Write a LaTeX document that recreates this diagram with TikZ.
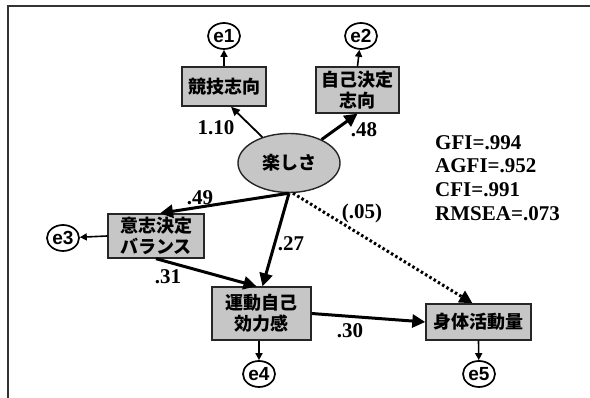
\documentclass[tikz,border=0pt]{standalone}
\usepackage{fontspec}
\setmainfont{Liberation Serif}
\newfontfamily\cjk{Noto Sans CJK JP}
\newfontfamily\esans{Liberation Sans}
\usetikzlibrary{arrows.meta,shapes.geometric}
\begin{document}
\begin{tikzpicture}[x=1pt,y=-1pt,
  box/.style={draw=black!85, line width=1.4pt, fill=gray!45, inner sep=0pt, align=center,
    font=\cjk\bfseries\fontsize{18}{21}\selectfont},
  err/.style={ellipse, draw=black, line width=1.7pt, fill=white, minimum width=32pt, minimum height=26pt, inner sep=0pt,
    font=\esans\bfseries\fontsize{19}{19}\selectfont},
  bigarrow/.style={line width=3pt, -{Triangle[length=13pt,width=13pt]}},
  thinarrow/.style={line width=1.8pt, -{Triangle[length=9pt,width=8pt]}},
  errarrow/.style={line width=1.6pt, -{Triangle[length=7pt,width=7pt]}},
  dotarrow/.style={line width=3pt, dash pattern=on 2.5pt off 2.5pt, -{Triangle[length=13pt,width=13pt]}},
  lbl/.style={font=\bfseries\fontsize{21}{24}\selectfont, inner sep=0pt},
  frameline/.style={draw=black!80, line width=1.6pt}
]
\useasboundingbox (0,0) rectangle (590,398);
\fill[white] (0,0) rectangle (590,398);
\draw[frameline] (8,398) -- (8,6) -- (590,6);

% boxes
\node[box, minimum width=84pt, minimum height=39pt] (b1) at (224,86.5) {競技志向};
\node[box, minimum width=83pt, minimum height=46pt] (b2) at (357.5,90) {自己決定\\志向};
\node[box, minimum width=96pt, minimum height=44pt] (b3) at (156,236) {意志決定\\バランス};
\node[box, minimum width=99pt, minimum height=53pt] (b4) at (261.5,313.5) {運動自己\\効力感};
\node[box, minimum width=105pt, minimum height=36pt] (b5) at (478.5,322) {身体活動量};
\node[ellipse, draw=black!85, line width=1.4pt, fill=gray!45, minimum width=102pt, minimum height=59pt, inner sep=0pt,
  font=\cjk\bfseries\fontsize{18}{21}\selectfont] (ell) at (289,163) {楽しさ};

% error terms
\node[err] (e1) at (224,36) {e1};
\node[err] (e2) at (361,36) {e2};
\node[err] (e3) at (63,238) {e3};
\node[err] (e4) at (259,374) {e4};
\node[err] (e5) at (479,374) {e5};

\draw[errarrow] (b1.north) -- (e1);
\draw[errarrow] (b2.north) -- (e2);
\draw[errarrow] (b3.west) -- (e3);
\draw[errarrow] ([xshift=-2.5pt]b4.south) -- (e4);
\draw[errarrow] (b5.south) -- (e5);

% paths
\draw[thinarrow] (ell) -- ([xshift=7pt]b1.south);
\draw[bigarrow] (ell) -- (b2.south);
\draw[bigarrow] (ell.south) -- ([xshift=4pt]b3.north);
\draw[bigarrow] (ell.south) -- ([xshift=1pt]b4.north);
\draw[bigarrow] (b3.south) -- ([xshift=-5pt]b4.north);
\draw[bigarrow] (b4.east) -- (b5.west);
\draw[dotarrow] ([xshift=4pt]ell.south) -- ([xshift=-6pt]b5.north);

% labels
\node[lbl] (l110) at (216,128) {1.10};
\node[lbl] (l48) at (364,130) {.48};
\node[lbl] (l49) at (200,198) {.49};
\node[lbl] (l27) at (291,244) {.27};
\node[lbl] (l31) at (168,277) {.31};
\node[lbl] (l30) at (350,331) {.30};
\node[lbl] (l05) at (362,213) {(.05)};
\node[lbl, anchor=west, align=left, font=\bfseries\fontsize{21}{23.7}\selectfont] (fit) at (435,178)
  {GFI=.994\\AGFI=.952\\CFI=.991\\RMSEA=.073};
\end{tikzpicture}
\end{document}
